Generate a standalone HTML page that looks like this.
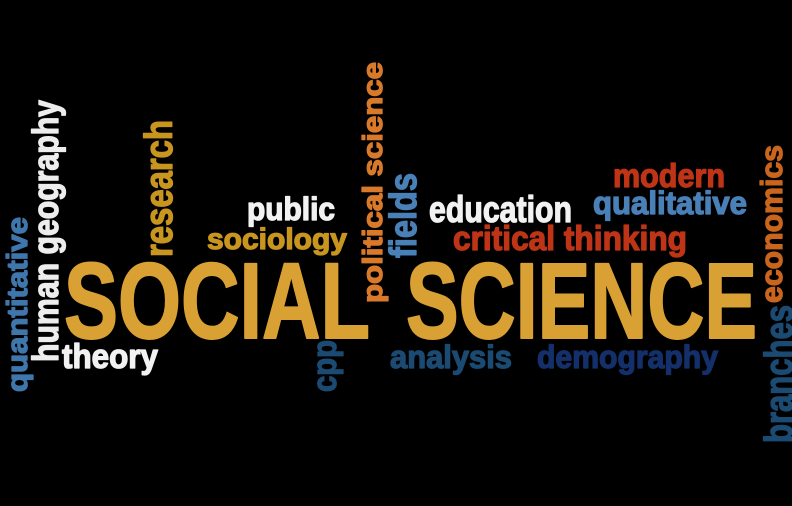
<!DOCTYPE html>
<html><head><meta charset="utf-8">
<style>
html,body{margin:0;padding:0;background:#000;}
svg{display:block;}
text{font-family:"Liberation Sans Narrow","Liberation Sans",sans-serif;font-weight:bold;stroke-width:1.3;stroke-linejoin:round;}
</style></head>
<body>
<svg width="792" height="506" viewBox="0 0 792 506">
<rect width="792" height="506" fill="#000"/>
<text x="64" y="338" font-size="108" fill="#D9A034" stroke="#D9A034" style="stroke-width:2" textLength="306" lengthAdjust="spacingAndGlyphs">SOCIAL</text>
<text x="406" y="338" font-size="108" fill="#D9A034" stroke="#D9A034" style="stroke-width:2" textLength="351" lengthAdjust="spacingAndGlyphs">SCIENCE</text>
<text x="62" y="368" font-size="34" fill="#F2F2F2" stroke="#F2F2F2" textLength="96" lengthAdjust="spacingAndGlyphs">theory</text>
<text x="247" y="220" font-size="32" fill="#F2F2F2" stroke="#F2F2F2" textLength="88" lengthAdjust="spacingAndGlyphs">public</text>
<text x="207" y="249" font-size="30" fill="#C8951F" stroke="#C8951F" textLength="140" lengthAdjust="spacingAndGlyphs">sociology</text>
<text x="429" y="222" font-size="37" fill="#F2F2F2" stroke="#F2F2F2" textLength="143" lengthAdjust="spacingAndGlyphs">education</text>
<text x="613" y="187" font-size="33" fill="#BF3416" stroke="#BF3416" textLength="112" lengthAdjust="spacingAndGlyphs">modern</text>
<text x="593" y="214" font-size="32" fill="#4A80B8" stroke="#4A80B8" textLength="154" lengthAdjust="spacingAndGlyphs">qualitative</text>
<text x="453" y="250" font-size="34" fill="#BF3416" stroke="#BF3416" textLength="234" lengthAdjust="spacingAndGlyphs">critical thinking</text>
<text x="390" y="368" font-size="32" fill="#1B4A72" stroke="#1B4A72" textLength="122" lengthAdjust="spacingAndGlyphs">analysis</text>
<text x="537" y="368" font-size="32" fill="#14306B" stroke="#14306B" textLength="181" lengthAdjust="spacingAndGlyphs">demography</text>
<text transform="translate(27,392) rotate(-90)" font-size="29" fill="#3F77AC" stroke="#3F77AC" textLength="175" lengthAdjust="spacingAndGlyphs">quantitative</text>
<text transform="translate(58,362) rotate(-90)" font-size="36" fill="#EDEDED" stroke="#EDEDED" textLength="262" lengthAdjust="spacingAndGlyphs">human geography</text>
<text transform="translate(172,257) rotate(-90)" font-size="39" fill="#C8951F" stroke="#C8951F" textLength="137" lengthAdjust="spacingAndGlyphs">research</text>
<text transform="translate(382,303) rotate(-90)" font-size="28" fill="#D97A2B" stroke="#D97A2B" textLength="241" lengthAdjust="spacingAndGlyphs">political science</text>
<text transform="translate(416,258) rotate(-90)" font-size="38" fill="#4A80B8" stroke="#4A80B8" textLength="85" lengthAdjust="spacingAndGlyphs">fields</text>
<text transform="translate(336,392) rotate(-90)" font-size="34" fill="#1B4A72" stroke="#1B4A72" textLength="52" lengthAdjust="spacingAndGlyphs">cpp</text>
<text transform="translate(782,303) rotate(-90)" font-size="31" fill="#C9651C" stroke="#C9651C" textLength="158" lengthAdjust="spacingAndGlyphs">economics</text>
<text transform="translate(792,443) rotate(-90)" font-size="39" fill="#1B4A72" stroke="#1B4A72" textLength="138" lengthAdjust="spacingAndGlyphs">branches</text>
</svg>
</body></html>
